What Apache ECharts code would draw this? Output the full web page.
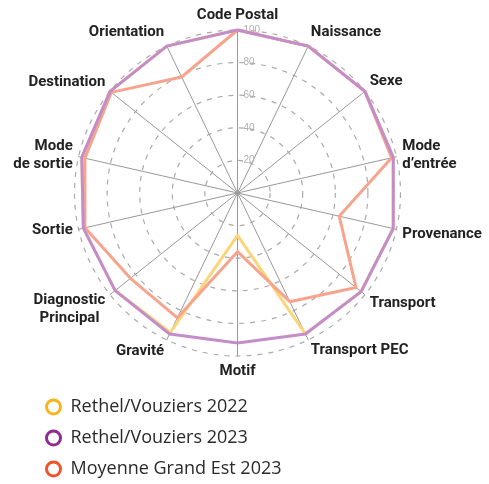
<!DOCTYPE html>
<html>
<head>
<meta charset="utf-8">
<script src="https://cdn.jsdelivr.net/npm/echarts@6/dist/echarts.min.js"></script>
<style>
  html, body { margin: 0; padding: 0; background: #fff; }
  #main { width: 489px; height: 484px; }
</style>
</head>
<body>
<div id="main"></div>
<script>
// axes, read clockwise from the top
var categories = ['Code Postal', 'Naissance', 'Sexe', 'Mode\nd’entrée', 'Provenance', 'Transport',
  'Transport PEC', 'Motif', 'Gravité', 'Diagnostic\nPrincipal', 'Sortie', 'Mode\nde sortie',
  'Destination', 'Orientation'];
var rv2022 = [100, 100, 100, 98, 98, 97, 96, 26, 95, 96, 97, 98, 100, 100];
var rv2023 = [100, 100, 100, 98, 98, 97, 96, 92, 96, 96, 97, 98, 100, 100];
var ge2023 = [100, 100, 100, 97, 64, 93, 74, 36, 85, 84, 96, 96, 99, 79];
var seriesNames = ['Rethel/Vouziers 2022', 'Rethel/Vouziers 2023', 'Moyenne Grand Est 2023'];
var tickLabels = [0, 20, 40, 60, 80, 100];

var legendColors = ['#F5B51B', '#8E2C90', '#F0522A'];
var lineColors = ['#FCD576', '#C48DCA', '#F6A48D'];

// small nudges of the axis names (px, + = down)
var nameShift = {
  'Naissance': -8, 'Sexe': -6, 'Orientation': -8, 'Destination': -5,
  'Provenance': 4, 'Transport': 5, 'Transport PEC': 5, 'Gravité': 6,
  'Diagnostic\nPrincipal': 11
};

// echarts radar runs anticlockwise, so flip everything after the first axis
function clockwise(arr) {
  return [arr[0]].concat(arr.slice(1).reverse());
}

var indicator = clockwise(categories).map(function (name, i) {
  var ind = { name: name, min: 0, max: 100 };
  if (i === 0) {
    ind.axisLabel = { show: true };
  }
  return ind;
});

var rich = { n: {}, c: { align: 'center' } };
Object.keys(nameShift).forEach(function (k, i) {
  var s = Math.abs(nameShift[k]) * 2;
  rich['g' + i] = { height: s, lineHeight: s, fontSize: 1 };
});

var chart = echarts.init(document.getElementById('main'));

var option = {
  backgroundColor: '#fff',
  animation: false,
  legend: {
    orient: 'vertical',
    left: 45,
    top: 397,
    padding: 0,
    icon: 'circle',
    itemWidth: 24,
    itemHeight: 14,
    itemGap: 11,
    textStyle: { fontFamily: 'Open Sans', fontSize: 18, lineHeight: 20, color: '#2a2a2a' },
    data: seriesNames.map(function (n, i) {
      return { name: n, itemStyle: { color: '#fff', borderColor: legendColors[i], borderWidth: 3 } };
    })
  },
  radar: {
    center: [237.5, 193],
    radius: 163,
    shape: 'circle',
    splitNumber: 5,
    nameGap: 6,
    axisName: {
      color: '#222',
      fontFamily: 'Roboto',
      fontWeight: 'bold',
      fontSize: 15,
      lineHeight: 18,
      rich: rich,
      formatter: function (name) {
        var k = Object.keys(nameShift).indexOf(name);
        var text = name.split('\n').map(function (line, j) {
          var style = (name.indexOf('Diagnostic') === 0 && j === 1) ? 'c' : 'n';
          return '{' + style + '|' + line + '}';
        }).join('\n');
        if (k < 0) return text;
        var gap = '{g' + k + '| }';
        return nameShift[name] > 0 ? gap + '\n' + text : text + '\n' + gap;
      }
    },
    axisLine: { lineStyle: { color: '#999', width: 1 } },
    splitLine: { lineStyle: { color: '#aaa', width: 1.2, type: [5, 6] } },
    splitArea: { show: false },
    axisTick: { show: false },
    axisLabel: {
      show: false,
      color: '#b0b0b0',
      fontSize: 10,
      margin: -6,
      align: 'left',
      formatter: function (v) { return tickLabels.indexOf(v) > 0 ? String(v) : ''; }
    },
    indicator: indicator
  },
  series: [0, 2, 1].map(function (k) {
    var vals = [rv2022, rv2023, ge2023][k];
    return {
      name: seriesNames[k],
      type: 'radar',
      symbol: 'none',
      lineStyle: { color: lineColors[k], width: 3 },
      itemStyle: { color: legendColors[k] },
      data: [{ name: seriesNames[k], value: clockwise(vals) }]
    };
  })
};

chart.setOption(option);
</script>
</body>
</html>
